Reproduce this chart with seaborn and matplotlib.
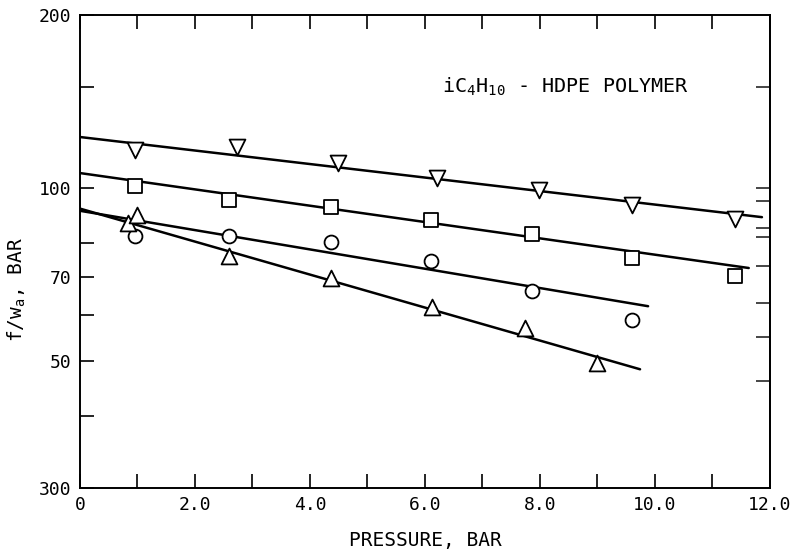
import numpy as np
import pandas as pd
import matplotlib
matplotlib.use("Agg")
import matplotlib.pyplot as plt
import seaborn as sns

# ---- data ----
p_down = [0.96, 2.73, 4.49, 6.21, 7.98, 9.60, 11.39]
f_down = [116.4, 117.8, 110.4, 104.0, 99.1, 93.3, 88.2]

p_sq = [0.96, 2.59, 4.37, 6.10, 7.86, 9.60, 11.39]
f_sq = [100.7, 95.2, 92.6, 87.9, 83.1, 75.5, 70.2]

p_circ = [0.96, 2.59, 4.37, 6.10, 7.86, 9.60]
f_circ = [82.4, 82.4, 80.4, 74.6, 66.1, 58.9]

p_up = [0.84, 0.99, 2.60, 4.36, 6.12, 7.74, 9.00]
f_up = [86.9, 89.7, 76.1, 69.6, 62.1, 57.1, 49.6]

# fitted lines (end points)
fit_down_p = [0.0, 11.86]
fit_down_f = [122.6, 88.9]
fit_sq_p = [0.0, 11.63]
fit_sq_f = [106.1, 72.5]
fit_circ_p = [0.0, 9.88]
fit_circ_f = [91.2, 62.2]
fit_up_p = [0.0, 9.74]
fit_up_f = [92.0, 48.3]

yticks = [30, 40, 50, 60, 70, 80, 100, 150, 200]
ytick_labels = ["300", "", "50", "", "70", "", "100", "", "200"]
right_ticks = [150, 100, 95, 85, 82, 73, 63, 55, 46]
xticks = np.arange(0, 13, 1.0)
xtick_labels = ["0", "", "2.0", "", "4.0", "", "6.0", "", "8.0", "", "10.0", "", "12.0"]

sns.set_style("ticks")
plt.rcParams["font.family"] = ["DejaVu Sans Mono"]
plt.rcParams["mathtext.default"] = "regular"
plt.rcParams["text.color"] = "black"
plt.rcParams["axes.labelcolor"] = "black"

fig = plt.figure(figsize=(7.99, 5.51), dpi=100)
ax = fig.add_axes([0.1001, 0.1143, 0.8636, 0.8585])

series = [
    (p_down, f_down, "v", 130, fit_down_p, fit_down_f),
    (p_sq, f_sq, "s", 110, fit_sq_p, fit_sq_f),
    (p_circ, f_circ, "o", 100, fit_circ_p, fit_circ_f),
    (p_up, f_up, "^", 130, fit_up_p, fit_up_f),
]

for px, fy, mk, sz, lp, lf in series:
    sns.lineplot(x=lp, y=lf, ax=ax, color="black", linewidth=1.8, zorder=2)
    sns.scatterplot(x=px, y=fy, ax=ax, marker=mk, s=sz, facecolor="white",
                    edgecolor="black", linewidth=1.3, zorder=3)

ax.set_yscale("log")
ax.set_xlim(0, 12)
ax.set_ylim(30, 200)
ax.set_yticks(yticks)
ax.set_yticklabels(ytick_labels)
ax.yaxis.set_minor_locator(matplotlib.ticker.NullLocator())
ax.set_xticks(xticks)
ax.set_xticklabels(xtick_labels)

ax.tick_params(axis="both", direction="in", length=10, width=1.2,
               labelsize=13, colors="black", pad=6)
ax.tick_params(axis="x", top=True)
ax.tick_params(axis="y", right=False)

sec = ax.secondary_yaxis("right")
sec.set_yticks(right_ticks)
sec.set_yticklabels([])
sec.yaxis.set_minor_locator(matplotlib.ticker.NullLocator())
sec.tick_params(direction="in", length=10, width=1.2)
sec.spines["right"].set_linewidth(1.4)

for s in ax.spines.values():
    s.set_visible(True)
    s.set_linewidth(1.4)
    s.set_color("black")

ax.set_xlabel("PRESSURE, BAR", fontsize=14, labelpad=12)
ax.set_ylabel("f/w$_a$, BAR", fontsize=14)
ax.yaxis.set_label_coords(-0.075, 0.42)

ax.text(6.3, 150, "iC$_4$H$_{10}$ - HDPE POLYMER", fontsize=14.5,
        ha="left", va="center", color="black")

fig.savefig("out.png", dpi=100)
